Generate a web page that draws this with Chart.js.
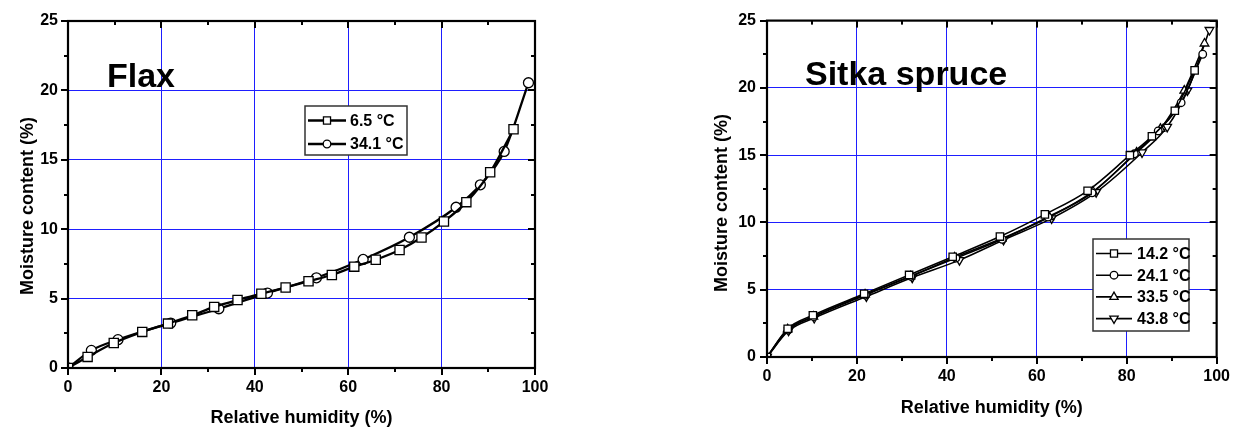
<!DOCTYPE html>
<html>
<head>
<meta charset="utf-8">
<script src="https://cdn.jsdelivr.net/npm/chart.js@4.4.1/dist/chart.umd.min.js"></script>
<style>
  body { margin: 0; background: #fff; }
  #flax_wrap { position: absolute; left: 0; top: 0; }
  #spruce_wrap { position: absolute; left: 700px; top: 0; }
</style>
</head>
<body>
<div id="flax_wrap"><canvas id="flax_chart" width="620" height="430"></canvas></div>
<div id="spruce_wrap"><canvas id="spruce_chart" width="540" height="430"></canvas></div>
<script>
var flax_chart = document.getElementById('flax_chart');
var spruce_chart = document.getElementById('spruce_chart');

const FONT = "'Liberation Sans', Arial, sans-serif";

// flax - 6.5 °C
const flax_rh_65 = [0, 4.2, 9.8, 15.9, 21.4, 26.6, 31.3, 36.3, 41.4, 46.6, 51.5, 56.5, 61.3, 65.9, 71.0, 75.7, 80.5, 85.3, 90.4, 95.4];
const flax_mc_65 = [0, 0.8, 1.8, 2.6, 3.2, 3.8, 4.4, 4.9, 5.35, 5.8, 6.25, 6.7, 7.3, 7.8, 8.5, 9.4, 10.55, 11.95, 14.1, 17.2];
// flax - 34.1 °C
const flax_rh_341 = [0, 5.0, 10.7, 22.0, 32.3, 42.7, 53.2, 63.2, 73.1, 83.1, 88.3, 93.4, 98.6];
const flax_mc_341 = [0, 1.27, 2.04, 3.24, 4.27, 5.4, 6.5, 7.82, 9.42, 11.58, 13.2, 15.6, 20.55];

// sitka spruce
const spruce_rh_142 = [0, 4.6, 10.2, 21.6, 31.6, 41.3, 51.8, 61.8, 71.3, 80.7, 85.6, 90.7, 95.1];
const spruce_mc_142 = [0, 2.1, 3.1, 4.7, 6.1, 7.45, 8.95, 10.6, 12.35, 15.0, 16.4, 18.3, 21.3];
const spruce_rh_241 = [0, 4.7, 10.4, 21.9, 32.0, 42.0, 52.3, 62.5, 72.3, 81.7, 87.0, 92.1, 96.9];
const spruce_mc_241 = [0, 2.0, 3.0, 4.6, 6.0, 7.35, 8.75, 10.4, 12.2, 15.1, 16.8, 18.9, 22.5];
const spruce_rh_335 = [0, 4.6, 10.3, 21.8, 31.9, 41.7, 52.2, 62.8, 72.5, 82.2, 87.5, 92.8, 97.3];
const spruce_mc_335 = [0, 2.05, 3.0, 4.65, 6.0, 7.4, 8.8, 10.4, 12.3, 15.2, 16.95, 19.8, 23.3];
const spruce_rh_438 = [0, 4.8, 10.5, 22.1, 32.3, 42.8, 52.6, 63.3, 73.2, 83.4, 89.0, 93.5, 98.4];
const spruce_mc_438 = [0, 1.95, 2.9, 4.5, 5.9, 7.2, 8.7, 10.3, 12.25, 15.2, 17.1, 19.8, 24.3];

const x_ticks = [0, 20, 40, 60, 80, 100];
const y_ticks = [0, 5, 10, 15, 20, 25];

function pairs(xs, ys) {
  return xs.map((x, i) => ({ x: x, y: ys[i] }));
}

function series(label, xs, ys, style, radius, width, rotation) {
  return {
    label: label,
    data: pairs(xs, ys),
    borderColor: '#000',
    borderWidth: width,
    backgroundColor: '#fff',
    pointStyle: style,
    pointRadius: radius,
    pointRotation: rotation || 0,
    pointBackgroundColor: '#fff',
    pointBorderColor: '#000',
    pointBorderWidth: 1.3,
    cubicInterpolationMode: 'monotone',
    fill: false
  };
}

// box around the plot + tick marks (major and minor)
const frame = {
  id: 'frame',
  afterDraw(chart) {
    const { ctx, chartArea: a, scales: { x, y } } = chart;
    ctx.save();
    ctx.fillStyle = '#000';
    for (let v = 0; v <= 100; v += 10) {
      const px = Math.round(x.getPixelForValue(v));
      const len = x_ticks.includes(v) ? 7 : 4;
      ctx.fillRect(px - 1, a.bottom, 2, len);   // outside, bottom
      ctx.fillRect(px - 1, a.top, 2, len);      // inside, top
    }
    for (let v = 0; v <= 25; v += 2.5) {
      const py = Math.round(y.getPixelForValue(v));
      const len = y_ticks.includes(v) ? 7 : 4;
      ctx.fillRect(a.left - len, py - 1, len, 2);   // outside, left
      ctx.fillRect(a.right - len, py - 1, len, 2);  // inside, right
    }
    ctx.strokeStyle = '#000';
    ctx.lineWidth = 2.2;
    ctx.strokeRect(a.left, a.top, a.right - a.left, a.bottom - a.top);
    ctx.restore();
  }
};

// panel name, y title and boxed legend
const notes = {
  id: 'notes',
  afterDraw(chart, args, o) {
    const ctx = chart.ctx;
    ctx.save();
    ctx.fillStyle = '#000';
    ctx.textBaseline = 'alphabetic';
    ctx.textAlign = 'left';
    ctx.font = 'bold 34px ' + FONT;
    ctx.fillText(o.name, o.nameX, o.nameY);

    ctx.save();
    ctx.translate(o.yTitleX, o.yTitleY);
    ctx.rotate(-Math.PI / 2);
    ctx.textAlign = 'center';
    ctx.font = 'bold 18px ' + FONT;
    ctx.fillText('Moisture content (%)', 0, 0);
    ctx.restore();

    const lg = o.legend;
    ctx.fillStyle = '#fff';
    ctx.fillRect(lg.x, lg.y, lg.w, lg.h);
    ctx.strokeStyle = '#333';
    ctx.lineWidth = 1.5;
    ctx.strokeRect(lg.x, lg.y, lg.w, lg.h);

    ctx.font = 'bold 16px ' + FONT;
    ctx.textBaseline = 'middle';
    chart.data.datasets.forEach((ds, i) => {
      const ry = lg.y + lg.first + i * lg.row;
      const cx = lg.x + 3 + lg.line / 2;
      ctx.strokeStyle = '#000';
      ctx.lineWidth = ds.borderWidth;
      ctx.beginPath();
      ctx.moveTo(lg.x + 3, ry);
      ctx.lineTo(lg.x + 3 + lg.line, ry);
      ctx.stroke();
      ctx.fillStyle = '#fff';
      ctx.lineWidth = 1.3;
      Chart.helpers.drawPoint(ctx, {
        pointStyle: ds.pointStyle,
        radius: lg.marks[i],
        rotation: ds.pointRotation,
        borderWidth: 1.3
      }, cx, ry);
      ctx.fillStyle = '#000';
      ctx.fillText(ds.label, lg.x + lg.text, ry + 1);
    });
    ctx.restore();
  }
};

function scales(tickPadY, xHeight, yWidth, titlePad) {
  const tickFont = { family: FONT, size: 16, weight: 'bold' };
  return {
    x: {
      type: 'linear', min: 0, max: 100,
      afterBuildTicks: (s) => { s.ticks = x_ticks.map(v => ({ value: v })); },
      afterFit: (s) => { s.height = xHeight; },
      ticks: { color: '#000', font: tickFont, padding: 10 },
      grid: { color: 'rgb(30,30,255)', lineWidth: 1, drawTicks: false },
      border: { display: false },
      title: {
        display: true, text: 'Relative humidity (%)', color: '#000',
        font: { family: FONT, size: 18, weight: 'bold' },
        padding: { top: 0, bottom: titlePad }
      }
    },
    y: {
      type: 'linear', min: 0, max: 25,
      afterBuildTicks: (s) => { s.ticks = y_ticks.map(v => ({ value: v })); },
      afterFit: (s) => { s.width = yWidth; },
      ticks: { color: '#000', font: tickFont, padding: tickPadY },
      grid: { color: 'rgb(30,30,255)', lineWidth: 1, drawTicks: false },
      border: { display: false }
    }
  };
}

// flax
var flaxChart = new Chart(flax_chart, {
  type: 'line',
  data: {
    datasets: [
      series('6.5 °C', flax_rh_65, flax_mc_65, 'rect', 6.5, 2.3),
      series('34.1 °C', flax_rh_341, flax_mc_341, 'circle', 5, 2.3)
    ]
  },
  options: {
    responsive: false,
    animation: false,
    devicePixelRatio: 1,
    layout: { padding: { left: 8, top: 21, right: 85, bottom: 0 } },
    scales: scales(10, 62, 60, 1),
    plugins: {
      legend: { display: false },
      tooltip: { enabled: false },
      notes: {
        name: 'Flax', nameX: 107, nameY: 87,
        yTitleX: 33, yTitleY: 206,
        legend: { x: 305, y: 106, w: 102, h: 49, first: 14.5, row: 23.5, line: 38, text: 45, marks: [5, 3.8] }
      }
    }
  },
  plugins: [frame, notes]
});

// sitka spruce
var spruceChart = new Chart(spruce_chart, {
  type: 'line',
  data: {
    datasets: [
      series('14.2 °C', spruce_rh_142, spruce_mc_142, 'rect', 5.2, 1.6),
      series('24.1 °C', spruce_rh_241, spruce_mc_241, 'circle', 3.8, 1.6),
      series('33.5 °C', spruce_rh_335, spruce_mc_335, 'triangle', 5, 1.6),
      series('43.8 °C', spruce_rh_438, spruce_mc_438, 'triangle', 5, 1.6, 180)
    ]
  },
  options: {
    responsive: false,
    animation: false,
    devicePixelRatio: 1,
    layout: { padding: { left: 7, top: 19, right: 20, bottom: 0 } },
    scales: scales(11, 73, 60, 11),
    plugins: {
      legend: { display: false },
      tooltip: { enabled: false },
      notes: {
        name: 'Sitka spruce', nameX: 105, nameY: 85,
        yTitleX: 27, yTitleY: 203,
        legend: { x: 393, y: 239, w: 96, h: 92, first: 14.5, row: 21.7, line: 36, text: 44, marks: [5, 3.8, 4.8, 4.8] }
      }
    }
  },
  plugins: [frame, notes]
});
</script>
</body>
</html>
